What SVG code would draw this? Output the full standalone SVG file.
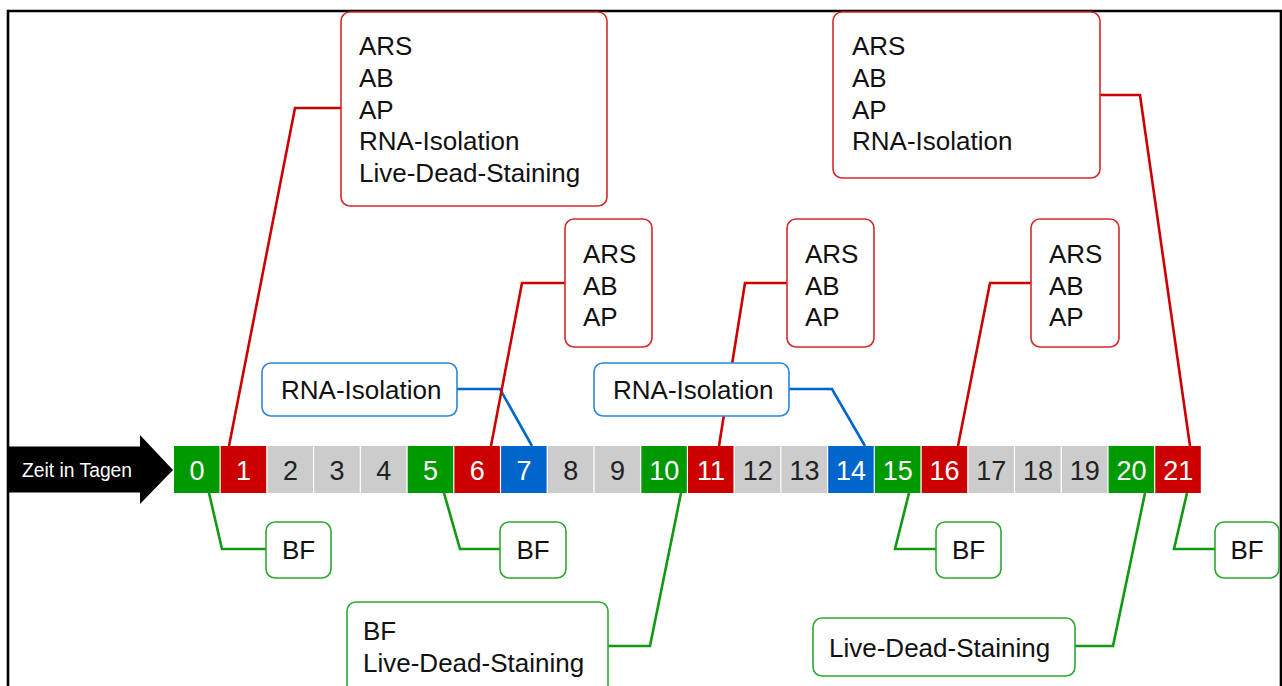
<svg xmlns="http://www.w3.org/2000/svg" width="1282" height="686" viewBox="0 0 1282 686">
<style>
.t{font-family:"Liberation Sans",Arial,sans-serif;font-size:26px;fill:#111}
.d{font-family:"Liberation Sans",Arial,sans-serif;font-size:27px;text-anchor:middle}
.w{fill:#fff}.k{fill:#222}
.g{fill:#009900}.r{fill:#cc0000}.y{fill:#cccccc}.b{fill:#0066cc}
.br{fill:#fff;stroke:#d42a2a;stroke-width:1.6}
.bb{fill:#fff;stroke:#2b86d8;stroke-width:1.6}
.bg{fill:#fff;stroke:#2ea82e;stroke-width:1.6}
.cr{fill:none;stroke:#cc0000;stroke-width:2.6}
.cb{fill:none;stroke:#0066cc;stroke-width:2.6}
.cg{fill:none;stroke:#119911;stroke-width:2.6}
</style>
<rect x="0" y="0" width="1282" height="686" fill="#fff"/>
<path d="M8 700 V11 H1281 V700" fill="none" stroke="#000" stroke-width="2.6"/>

<g id="connectors">
<polyline class="cb" points="457,389 500,389 532,446"/>
<polyline class="cb" points="789,389 832,389 865,446"/>
<polyline class="cr" points="341,108 295,108 229,446"/>
<polyline class="cr" points="565,283 522,283 491,446"/>
<polyline class="cr" points="787,283 745,283 719,446"/>
<polyline class="cr" points="1031,283 990,283 958,446"/>
<polyline class="cr" points="1100,95 1140,95 1190,446"/>
<polyline class="cg" points="209,493 222,549 266,549"/>
<polyline class="cg" points="444,493 460,549 500,549"/>
<polyline class="cg" points="909,493 895,549 936,549"/>
<polyline class="cg" points="1187,493 1174,549 1215,549"/>
<polyline class="cg" points="608,646 650,646 681,493"/>
<polyline class="cg" points="1075,646 1113,646 1145,493"/>
</g>

<g id="arrow">
<path d="M8 446.5 H140 V435 L173 470 L140 504 V492.5 H8 Z" fill="#000"/>
<text x="22" y="477" style="font-family:'Liberation Sans',Arial,sans-serif;font-size:19.3px;fill:#fff">Zeit in Tagen</text>
</g>

<g id="timeline">
<g id="day0"><rect class="g" x="174.0" y="446" width="45.5" height="47"/><text class="d w" x="196.9" y="480">0</text></g>
<g id="day1"><rect class="r" x="220.7" y="446" width="45.5" height="47"/><text class="d w" x="243.6" y="480">1</text></g>
<g id="day2"><rect class="y" x="267.5" y="446" width="45.5" height="47"/><text class="d k" x="290.4" y="480">2</text></g>
<g id="day3"><rect class="y" x="314.2" y="446" width="45.5" height="47"/><text class="d k" x="337.1" y="480">3</text></g>
<g id="day4"><rect class="y" x="360.9" y="446" width="45.5" height="47"/><text class="d k" x="383.8" y="480">4</text></g>
<g id="day5"><rect class="g" x="407.7" y="446" width="45.5" height="47"/><text class="d w" x="430.6" y="480">5</text></g>
<g id="day6"><rect class="r" x="454.4" y="446" width="45.5" height="47"/><text class="d w" x="477.3" y="480">6</text></g>
<g id="day7"><rect class="b" x="501.1" y="446" width="45.5" height="47"/><text class="d w" x="524.0" y="480">7</text></g>
<g id="day8"><rect class="y" x="547.8" y="446" width="45.5" height="47"/><text class="d k" x="570.7" y="480">8</text></g>
<g id="day9"><rect class="y" x="594.6" y="446" width="45.5" height="47"/><text class="d k" x="617.5" y="480">9</text></g>
<g id="day10"><rect class="g" x="641.3" y="446" width="45.5" height="47"/><text class="d w" x="664.2" y="480">10</text></g>
<g id="day11"><rect class="r" x="688.0" y="446" width="45.5" height="47"/><text class="d w" x="710.9" y="480">11</text></g>
<g id="day12"><rect class="y" x="734.8" y="446" width="45.5" height="47"/><text class="d k" x="757.7" y="480">12</text></g>
<g id="day13"><rect class="y" x="781.5" y="446" width="45.5" height="47"/><text class="d k" x="804.4" y="480">13</text></g>
<g id="day14"><rect class="b" x="828.2" y="446" width="45.5" height="47"/><text class="d w" x="851.1" y="480">14</text></g>
<g id="day15"><rect class="g" x="874.9" y="446" width="45.5" height="47"/><text class="d w" x="897.8" y="480">15</text></g>
<g id="day16"><rect class="r" x="921.7" y="446" width="45.5" height="47"/><text class="d w" x="944.6" y="480">16</text></g>
<g id="day17"><rect class="y" x="968.4" y="446" width="45.5" height="47"/><text class="d k" x="991.3" y="480">17</text></g>
<g id="day18"><rect class="y" x="1015.1" y="446" width="45.5" height="47"/><text class="d k" x="1038.0" y="480">18</text></g>
<g id="day19"><rect class="y" x="1061.9" y="446" width="45.5" height="47"/><text class="d k" x="1084.8" y="480">19</text></g>
<g id="day20"><rect class="g" x="1108.6" y="446" width="45.5" height="47"/><text class="d w" x="1131.5" y="480">20</text></g>
<g id="day21"><rect class="r" x="1155.3" y="446" width="45.5" height="47"/><text class="d w" x="1178.2" y="480">21</text></g>
</g>

<g id="box-day1">
<rect class="br" x="341" y="12" width="266" height="194" rx="9"/>
<text class="t" x="359" y="55">ARS</text>
<text class="t" x="359" y="87">AB</text>
<text class="t" x="359" y="119">AP</text>
<text class="t" x="359" y="150">RNA-Isolation</text>
<text class="t" x="359" y="182">Live-Dead-Staining</text>
</g>
<g id="box-day21">
<rect class="br" x="833" y="12" width="267" height="166" rx="9"/>
<text class="t" x="852" y="55">ARS</text>
<text class="t" x="852" y="87">AB</text>
<text class="t" x="852" y="119">AP</text>
<text class="t" x="852" y="150">RNA-Isolation</text>
</g>
<g id="box-day6">
<rect class="br" x="565" y="219" width="87" height="128" rx="9"/>
<text class="t" x="583" y="263">ARS</text>
<text class="t" x="583" y="295">AB</text>
<text class="t" x="583" y="326">AP</text>
</g>
<g id="box-day11">
<rect class="br" x="787" y="219" width="87" height="128" rx="9"/>
<text class="t" x="805" y="263">ARS</text>
<text class="t" x="805" y="295">AB</text>
<text class="t" x="805" y="326">AP</text>
</g>
<g id="box-day16">
<rect class="br" x="1031" y="219" width="88" height="128" rx="9"/>
<text class="t" x="1049" y="263">ARS</text>
<text class="t" x="1049" y="295">AB</text>
<text class="t" x="1049" y="326">AP</text>
</g>
<g id="box-day7">
<rect class="bb" x="262" y="363" width="195" height="53" rx="9"/>
<text class="t" x="281" y="399">RNA-Isolation</text>
</g>
<g id="box-day14">
<rect class="bb" x="594" y="363" width="195" height="53" rx="9"/>
<text class="t" x="613" y="399">RNA-Isolation</text>
</g>
<g id="box-day0">
<rect class="bg" x="266" y="522" width="65" height="56" rx="9"/>
<text class="t" x="298.5" y="559" text-anchor="middle">BF</text>
</g>
<g id="box-day5">
<rect class="bg" x="500" y="522" width="66" height="56" rx="9"/>
<text class="t" x="533" y="559" text-anchor="middle">BF</text>
</g>
<g id="box-day15">
<rect class="bg" x="936" y="522" width="65" height="56" rx="9"/>
<text class="t" x="968.5" y="559" text-anchor="middle">BF</text>
</g>
<g id="box-day21-bf">
<rect class="bg" x="1215" y="522" width="64" height="56" rx="9"/>
<text class="t" x="1247" y="559" text-anchor="middle">BF</text>
</g>
<g id="box-day10">
<rect class="bg" x="347" y="602" width="261" height="110" rx="9"/>
<text class="t" x="363" y="640">BF</text>
<text class="t" x="363" y="672">Live-Dead-Staining</text>
</g>
<g id="box-day20">
<rect class="bg" x="813" y="618" width="262" height="58" rx="9"/>
<text class="t" x="829" y="657">Live-Dead-Staining</text>
</g>
</svg>
